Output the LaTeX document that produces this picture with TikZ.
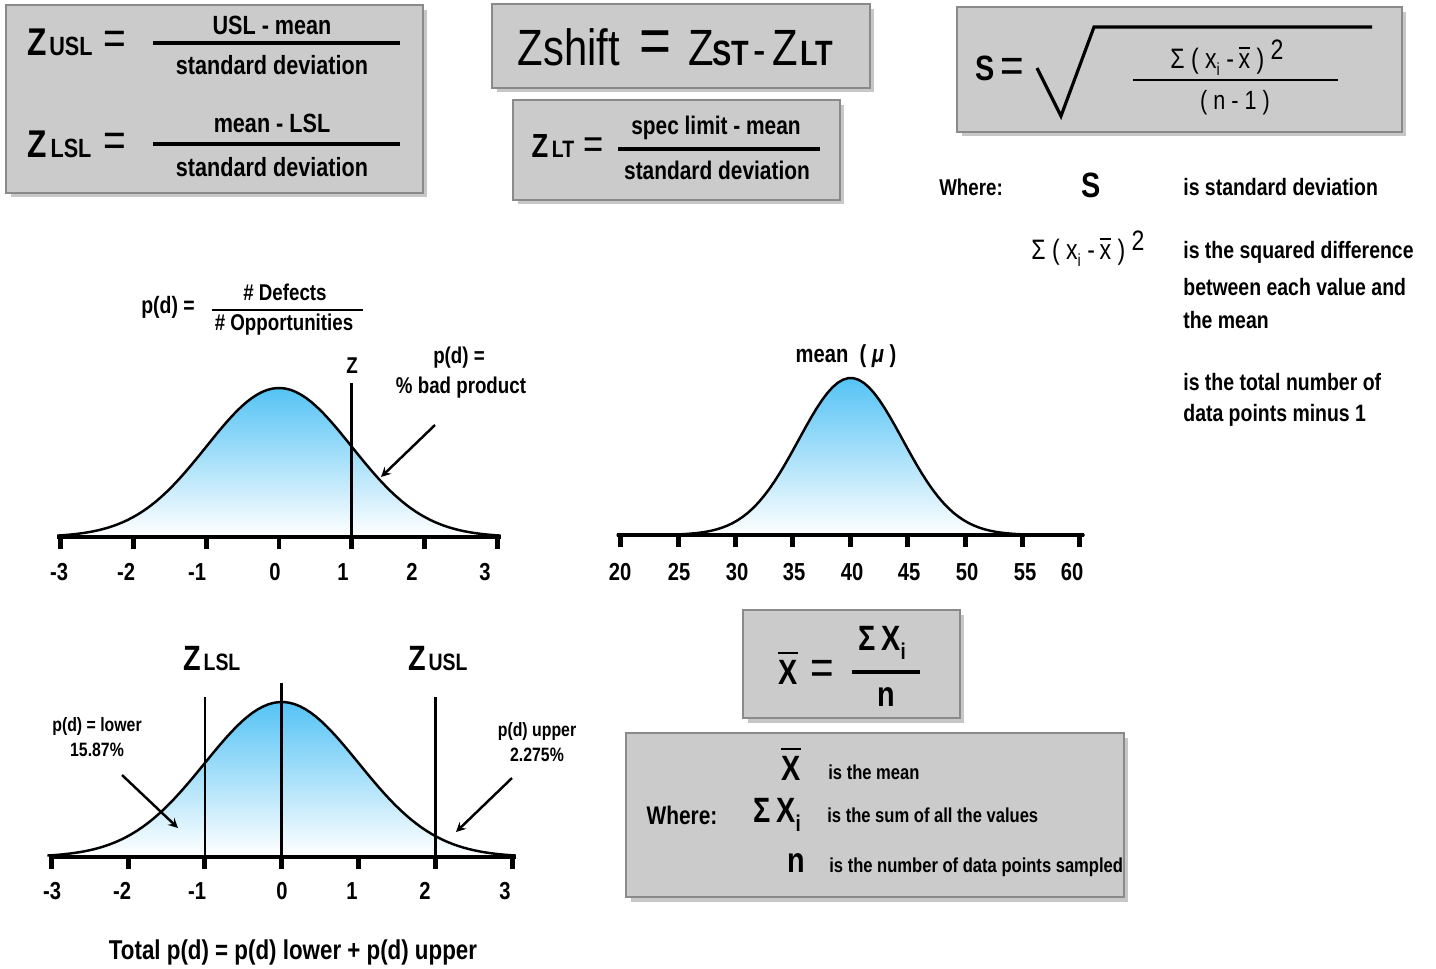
\documentclass[tikz,border=0pt]{standalone}
\usepackage{fontspec}
\setmainfont[FakeStretch=0.82]{Liberation Sans}
\usetikzlibrary{arrows,positioning,calc,shadows}
\definecolor{boxgray}{HTML}{CBCBCB}
\definecolor{boxedge}{HTML}{8A8A8A}
\definecolor{bellblue}{HTML}{55C3F5}
\newcommand{\fsz}[1]{\fontsize{#1}{#1}\selectfont}
\newcommand{\ovl}[1]{\vbox{\hrule height .13ex\kern .3ex\hbox{#1}}}
\newcommand{\lowi}[1]{\raisebox{-0.5ex}{#1}}
\tikzset{
  gbox/.style={rectangle, draw=boxedge, fill=boxgray, line width=0.8pt,
               drop shadow={shadow xshift=0.09cm, shadow yshift=-0.09cm, fill=gray!55, opacity=0.8}},
  labf/.style={inner sep=0pt, font=\bfseries\fsz{#1}},
  labf/.default=14,
  reglab/.style={inner sep=0pt, font=\mdseries\fsz{#1}},
  reglab/.default=14,
  fracline/.style={line width=2pt},
  axisline/.style={line width=1.9pt},
  tickline/.style={line width=2.8pt},
  bell/.style={line width=1.4pt},
  zline/.style={line width=1.4pt},
  tarr/.style={->, >=stealth, line width=1.4pt},
}
\begin{document}
\begin{tikzpicture}[x=0.02cm, y=-0.02cm]
  \useasboundingbox (0,0) rectangle (1436,968);
  \fill[white] (0,0) rectangle (1436,968);

  % grey formula boxes
  \node[gbox, minimum width=8.34cm, minimum height=3.76cm] (zbox)     at (214.5,99)  {};
  \node[gbox, minimum width=7.56cm, minimum height=1.68cm] (shiftbox) at (681,46)    {};
  \node[gbox, minimum width=6.54cm, minimum height=2.0cm]  (ltbox)    at (676.5,150) {};
  \node[gbox, minimum width=8.9cm,  minimum height=2.5cm]  (sbox)     at (1179.5,69.5) {};
  \node[gbox, minimum width=4.34cm, minimum height=2.16cm] (meanbox)  at (851.5,664) {};
  \node[gbox, minimum width=9.96cm, minimum height=3.28cm] (wherebox) at (875,815)   {};

  % Z USL / Z LSL
  \node[labf=22, anchor=base] (zu)   at (37,55)  {Z};
  \node[labf=15, anchor=base] (zusl) at (71,55)  {USL};
  \node[reglab=27]            (equ)  at (115,43) {=};
  \draw[fracline] (153,43) -- (400,43);
  \node[labf=15] (usln) at (272,25) {USL - mean};
  \node[labf=15] (usld) at (272,65) {standard deviation};
  \node[labf=22, anchor=base] (zl)   at (37,157)  {Z};
  \node[labf=15, anchor=base] (zlsl) at (71,157)  {LSL};
  \node[reglab=27]            (eql)  at (115,145) {=};
  \draw[fracline] (153,144) -- (400,144);
  \node[labf=15] (lsln) at (272,123) {mean - LSL};
  \node[labf=15] (lsld) at (272,167) {standard deviation};

  % Zshift
  \node[reglab=29, anchor=base] (zshift) at (569,65) {Zshift};
  \node[reglab=38]              (eqs)    at (655,47) {=};
  \node[reglab=29, anchor=base] (zst)    at (701,65) {Z};
  \node[labf=20, anchor=base]   (st)     at (731,65) {ST};
  \node[reglab=26, anchor=base] (mins)   at (760,65) {-};
  \node[reglab=29, anchor=base] (zlt)    at (785,65) {Z};
  \node[labf=20, anchor=base]   (lt)     at (817,65) {LT};

  % Z LT
  \node[labf=19, anchor=base] (zlt2) at (540,157) {Z};
  \node[labf=13.5, anchor=base] (lt2) at (563,157) {LT};
  \node[reglab=24] (eqlt) at (594,148) {=};
  \draw[fracline] (618,149) -- (820,149);
  \node[labf=14.5] (ltn) at (716,128) {spec limit - mean};
  \node[labf=14.5] (ltd) at (717,170) {standard deviation};

  % S formula
  \node[labf=20, anchor=base] (sv) at (985,80) {S};
  \node[reglab=28] (eqsd) at (1012,70) {=};
  \draw[line width=1.8pt, line join=miter] (1037,68) -- (1061,116) -- (1094,27) -- (1372,27);
  \draw[line width=1.6pt] (1133,80) -- (1338,80);
  \node[reglab=16] (sdn) at (1227,58) {Σ\ (\ x\lowi{\fsz{10}i}\ -\,\ovl{x}\ )\ \raisebox{0.6ex}{2}};
  \node[reglab=15] (sdd) at (1235,103) {(\ n\ -\ 1\ )};

  % where (S)
  \node[labf=13] (wh1) at (971,187) {Where:};
  \node[labf=20] (ws)  at (1091,185) {S};
  \node[labf=13.5, anchor=west] (ws1) at (1183,187) {is standard deviation};
  \node[reglab=16] (wsq) at (1088,249) {Σ\ (\ x\lowi{\fsz{10}i}\ -\,\ovl{x}\ )\ \raisebox{0.6ex}{2}};
  \node[labf=13.5, anchor=west] (wsq1) at (1183,252) {is the squared difference};
  \node[labf=13.5, anchor=west] (wsq2) at (1183,287) {between each value and};
  \node[labf=13.5, anchor=west] (wsq3) at (1183,320) {the mean};
  \node[labf=13.5, anchor=west] (wn1)  at (1183,382) {is the total number of};
  \node[labf=13.5, anchor=west] (wn2)  at (1183,415) {data points minus 1};

  % curve 1: p(d)
  \node[labf=13.5] (pdl) at (168,307) {p(d) =};
  \draw[line width=1.3pt] (212,310) -- (363,310);
  \node[labf=13] (pdn) at (285,292) {\# Defects};
  \node[labf=13] (pdd) at (284,325) {\# Opportunities};
  \fill[top color=bellblue, bottom color=white]
    plot[domain=-3.05:3.05, samples=90] ({279+72.7*(\x)},{537-149*exp(-0.5*(\x)^2)}) -- cycle;
  \draw[bell] plot[domain=-3.05:3.05, samples=90] ({279+72.7*(\x)},{537-149*exp(-0.5*(\x)^2)});
  \draw[zline] (351.7,383) -- (351.7,537);
  \draw[axisline] (57,537) -- (501,537);
  \foreach \k in {-3,...,3}
    \draw[tickline] ({279+72.7*\k},537) -- ++(0,12);
  \foreach \v/\lx [count=\i] in {-3/59,-2/126,-1/197,0/275,1/343,2/412,3/485}
    \node[labf=14] (ta\i) at (\lx,572) {\v};
  \node[labf=13] (zmark) at (352,366) {Z};
  \node[labf=13] (bad1)  at (459,358) {p(d) =};
  \node[labf=13] (bad2)  at (461,388) {\% bad product};
  \coordinate (badtail) at (435,425);
  \coordinate (badtip)  at (381,477);
  \draw[tarr] (badtail) -- (badtip);

  % curve 2: mean
  \node[labf=14] (mu) at (846,356) {mean\ \ (\ \textit{μ}\ )};
  \fill[top color=bellblue, bottom color=white]
    plot[domain=-4.5:4.5, samples=90] ({850.7+52*(\x)},{535-157*exp(-0.5*(\x)^2)}) -- cycle;
  \draw[bell] plot[domain=-4.5:4.5, samples=90] ({850.7+52*(\x)},{535-157*exp(-0.5*(\x)^2)});
  \draw[axisline] (617,535) -- (1084,535);
  \foreach \k in {0,...,8}
    \draw[tickline] ({620.7+57.4*\k},535) -- ++(0,12);
  \foreach \v/\lx [count=\i] in {20/620,25/679,30/737,35/794,40/852,45/909,50/967,55/1025,60/1072}
    \node[labf=14] (tb\i) at (\lx,572) {\v};

  % curve 3: Z LSL / Z USL
  \node[labf=20, anchor=base] (zlsl3) at (192,670) {Z};
  \node[labf=13.5, anchor=base] (lsl3) at (222,670) {LSL};
  \node[labf=20, anchor=base] (zusl3) at (417,670) {Z};
  \node[labf=13.5, anchor=base] (usl3) at (448,670) {USL};
  \fill[top color=bellblue, bottom color=white]
    plot[domain=-3.05:3.05, samples=90] ({281.7+76.8*(\x)},{857-155*exp(-0.5*(\x)^2)}) -- cycle;
  \draw[bell] plot[domain=-3.05:3.05, samples=90] ({281.7+76.8*(\x)},{857-155*exp(-0.5*(\x)^2)});
  \draw[zline] (204.9,697) -- (204.9,857);
  \draw[zline] (281.7,683) -- (281.7,857);
  \draw[zline] (435.3,697) -- (435.3,857);
  \draw[axisline] (49,857) -- (516,857);
  \foreach \k in {-3,...,3}
    \draw[tickline] ({281.7+76.8*\k},857) -- ++(0,12);
  \foreach \v/\lx [count=\i] in {-3/52,-2/122,-1/197,0/282,1/352,2/425,3/505}
    \node[labf=14] (tc\i) at (\lx,891) {\v};
  \node[labf=11] (low1) at (97,726) {p(d) = lower};
  \node[labf=11] (low2) at (97,750) {15.87\%};
  \node[labf=11] (up1)  at (537,731) {p(d) upper};
  \node[labf=11] (up2)  at (537,755) {2.275\%};
  \coordinate (lowtail) at (122,775);
  \coordinate (lowtip)  at (178,828);
  \coordinate (uptail)  at (512,778);
  \coordinate (uptip)   at (456,832);
  \draw[tarr] (lowtail) -- (lowtip);
  \draw[tarr] (uptail) -- (uptip);
  \node[labf=15.5] (total) at (293,952) {Total p(d) = p(d) lower + p(d) upper};

  % mean formula
  \node[labf=20, anchor=base] (xb) at (788,684) {\ovl{X}};
  \node[reglab=28] (eqx) at (822,672) {=};
  \node[labf=20] (sxi) at (882,643) {Σ\,X\lowi{\fsz{13}i}};
  \draw[fracline] (852,672) -- (920,672);
  \node[labf=20] (nn) at (886,697) {n};

  % where (mean)
  \node[labf=20, anchor=base] (wx) at (791,780) {\ovl{X}};
  \node[labf=11.5, anchor=west] (wx1) at (828,772) {is the mean};
  \node[labf=14.5] (wh2) at (682,815) {Where:};
  \node[labf=20] (wsx) at (777,815) {Σ\,X\lowi{\fsz{13}i}};
  \node[labf=11.5, anchor=west] (wsx1) at (827,815) {is the sum of all the values};
  \node[labf=20] (wn) at (796,863) {n};
  \node[labf=11.5, anchor=west] (wn3) at (829,867) {is the number of data points sampled};
\end{tikzpicture}
\end{document}
